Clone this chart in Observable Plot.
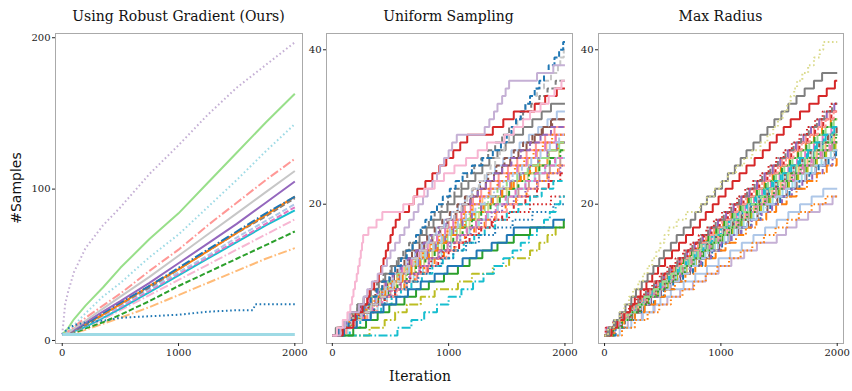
<!DOCTYPE html>
<html><head><meta charset="utf-8">
<script src="https://cdn.jsdelivr.net/npm/d3@7"></script>
<script src="https://cdn.jsdelivr.net/npm/@observablehq/plot@0.6"></script>
<style>
html,body{margin:0;padding:0;background:#fff;}
#fig{position:relative;width:852px;height:391px;overflow:hidden;font-family:"DejaVu Serif",serif;}
#fig svg{position:absolute;left:0;top:0;}
.t{position:absolute;font-size:14px;line-height:14px;white-space:nowrap;transform:translateX(-50%);color:#111;}
</style></head><body><div id="fig"></div>
<script>
// ---------- text ----------
const titles = ["Using Robust Gradient (Ours)", "Uniform Sampling", "Max Radius"];
const xLabel = "Iteration";
const yLabel = "#Samples";
const xTicks = [0, 1000, 2000];
const yTicksRobust = [0, 100, 200];
const yTicksOther = [20, 40];

// ---------- panel 1: Using Robust Gradient (Ours) — values at iterations ----------
const robustIter = [0, 25, 50, 100, 200, 350, 500, 750, 1000, 1250, 1500, 1750, 2000];
const robustValues = [
  [4, 4, 4, 5, 7, 11, 15, 22, 30, 38, 46, 54, 61],
  [4, 4, 4, 5, 8, 12, 17, 26, 36, 45, 54, 63, 72],
  [4, 4, 5, 6, 9, 14, 20, 30, 40, 50, 60, 70, 80],
  [4, 4, 5, 6, 9, 15, 21, 32, 43, 54, 65, 76, 86],
  [4, 4, 5, 6, 10, 16, 22, 33, 44, 55, 66, 77, 88],
  [4, 4, 5, 6, 10, 16, 23, 34, 45, 56, 68, 79, 90],
  [4, 4, 5, 6, 10, 17, 24, 35, 47, 59, 71, 82, 94],
  [4, 4, 5, 7, 11, 17, 24, 36, 47, 59, 71, 83, 95],
  [4, 5, 5, 7, 11, 18, 25, 36, 48, 60, 72, 84, 95],
  [4, 5, 5, 7, 12, 19, 26, 38, 51, 64, 77, 91, 105],
  [4, 5, 5, 8, 13, 21, 29, 42, 56, 70, 84, 98, 112],
  [4, 5, 6, 9, 15, 23, 31, 46, 60, 76, 91, 106, 120],
  [4, 5, 6, 10, 18, 29, 38, 55, 70, 88, 106, 125, 143],
  [4, 6, 8, 14, 23, 35, 48, 67, 84, 104, 124, 144, 163],
  [4, 24, 32, 45, 61, 76, 88, 110, 129, 149, 167, 182, 197]
];
const robustStyles = [
  ["#ffbb78", "dashdot"], ["#2ca02c", "dashed"], ["#f7b6d2", "dashdot"], ["#17becf", "solid"],
  ["#e377c2", "dashed"], ["#aec7e8", "dashed"], ["#7f7f7f", "dashed"], ["#ff7f0e", "solid"],
  ["#1f77b4", "dashdot"], ["#9467bd", "solid"], ["#c7c7c7", "solid"], ["#ff9896", "dashdot"],
  ["#9edae5", "dotted"], ["#98df8a", "solid"], ["#c5b0d5", "dotted"]
];
const robustBlueIter = [0, 25, 50, 100, 200, 350, 500, 750, 1000, 1250, 1500, 1640, 1660, 2000];
const robustBlueValues = [4, 6, 8, 10, 12, 13, 15, 16, 17, 19, 20, 20, 24, 24];
const robustFlatIter = [0, 2000];
const robustFlatValues = [4, 4];

// ---------- panel 2: Uniform Sampling — iterations at which each run gains one sample ----------
const uniformStart = 3;
const uniformJumps = [
  [50,120,190,260,330,400,480,560,640,720,800,880,950,1030,1110,1190,1280,1370,1460,1560,1650,1750,1850],
  [70,140,200,280,340,420,480,560,620,690,770,840,910,990,1060,1140,1210,1290,1360,1440,1520,1600,1680,1760,1840,1920],
  [60,150,230,300,380,450,530,600,680,760,830,910,990,1070,1150,1230,1310,1380,1460,1540,1620,1700,1780,1860,1950],
  [40,110,170,250,310,390,450,520,590,650,720,790,860,930,1000,1070,1140,1210,1280,1360,1430,1510,1590,1670,1750,1830,1910],
  [80,130,210,290,370,430,510,580,660,740,820,890,970,1040,1120,1200,1280,1370,1450,1530,1610,1690,1770,1850,1930],
  [55,125,200,265,335,400,470,530,600,665,730,790,860,925,990,1060,1120,1190,1250,1320,1390,1460,1530,1600,1670,1740,1810,1880],
  [90,170,260,340,420,500,590,670,750,830,910,990,1070,1160,1240,1330,1420,1510,1600,1690,1780,1870,1960],
  [45,105,180,240,310,390,460,520,600,680,750,820,900,970,1040,1110,1190,1270,1350,1430,1510,1590,1670,1750,1830,1920],
  [30,95,150,215,270,330,400,455,510,570,630,690,750,810,870,930,990,1050,1110,1170,1230,1290,1350,1420,1490,1560,1640,1720,1800,1880],
  [110,180,250,330,410,470,550,630,710,790,860,940,1020,1100,1180,1260,1340,1420,1500,1590,1680,1770,1860,1950],
  [130,210,300,390,470,540,620,700,780,860,940,1020,1100,1180,1260,1340,1420,1500,1580,1660,1740,1830,1920],
  [65,135,205,260,330,395,460,520,580,645,710,770,830,890,960,1020,1080,1140,1200,1270,1330,1400,1470,1540,1610,1690,1770,1850,1930],
  [100,190,280,360,450,540,620,710,790,880,960,1050,1140,1220,1310,1400,1490,1580,1670,1760,1850,1940],
  [75,160,240,320,400,480,560,640,720,800,880,960,1040,1120,1200,1280,1360,1440,1520,1600,1690,1780,1870,1960],
  [85,175,270,360,450,540,640,730,820,910,1000,1090,1180,1280,1370,1460,1560,1660,1760,1860,1960],
  [50,115,180,240,305,370,430,495,560,620,685,750,815,880,945,1010,1075,1140,1205,1270,1340,1410,1480,1560,1640,1720,1800,1890],
  [95,185,265,345,430,510,590,670,750,830,915,995,1075,1155,1235,1320,1405,1490,1575,1660,1745,1830,1915],
  [150,240,330,420,510,590,680,770,860,950,1040,1130,1220,1310,1400,1500,1600,1700,1800,1900],
  [55,120,195,255,330,390,460,520,590,650,720,785,850,915,980,1050,1115,1185,1250,1320,1390,1460,1540,1620,1700,1790,1880],
  [85,155,235,305,385,455,530,605,680,755,830,905,980,1060,1140,1220,1300,1380,1460,1540,1620,1700,1780,1860,1940],
  [120,210,300,385,470,555,640,725,810,895,980,1065,1150,1235,1320,1410,1500,1590,1680,1770,1860,1950],
  [40,115,185,265,335,410,480,560,635,715,790,870,945,1025,1100,1180,1260,1340,1420,1500,1590,1680,1770,1860,1950],
  [95,160,240,300,380,440,520,590,660,730,800,870,940,1010,1080,1150,1230,1310,1390,1470,1550,1630,1710,1790,1870,1950],
  [70,150,230,310,400,490,580,670,760,850,950,1050,1150,1260,1380,1520,1700,1880],
  [90,180,270,360,450,540,640,740,840,940,1040,1150,1260,1400,1550,1720,1900],
  [60,150,240,320,410,490,580,660,750,830,920,1010,1100,1190,1280,1370,1460,1560,1660,1760,1860,1960],
  [80,145,220,290,360,430,500,570,640,710,780,850,920,990,1060,1130,1200,1270,1345,1420,1495,1570,1650,1730,1810,1890],
  [45,100,160,215,270,330,385,440,500,555,610,660,720,770,830,880,940,995,1050,1110,1160,1220,1280,1340,1400,1460,1520,1580,1640,1710,1780,1850,1920],
  [320,450,540,640,760,880,1080,1200,1380,1520,1700,1780,1850,1920],
  [560,680,790,900,1000,1110,1210,1300,1390,1470,1550,1620,1690,1760,1820,1870,1920,1960],
  [180,290,390,490,620,720,830,960,1080,1180,1290,1420,1560,1700,1990],
  [100,210,330,440,550,650,760,880,990,1120,1240,1370,1500,1560,1900],
  [80,170,250,330,410,470,530,590,640,700,760,810,870,930,990,1050,1110,1160,1200,1260,1310,1360,1400,1440,1480,1520,1550,1590,1620,1660,1700,1760,1820,1880,1940,1960,1990],
  [60,140,210,270,330,380,430,490,540,590,640,690,720,760,800,850,900,950,1010,1060,1120,1200,1290,1380,1450,1500,1540,1580,1620,1660,1700,1740,1780,1820,1860,1910,1950,1985],
  [90,180,200,260,300,320,360,400,420,440,460,480,500,520,545,580,660,700,730,800,860,920,980,1040,1100,1160,1380,1470,1560,1740,1830,1930],
  [70,110,150,230,270,300,340,390,430,470,500,540,580,620,660,700,740,780,820,860,900,925,960,1000,1030,1070,1310,1350,1390,1420,1460,1490,1520,1760,1900],
  [40,90,130,155,170,182,195,210,222,235,245,255,265,310,380,430,610,700,790,880,960,1050,1150,1250,1330,1480,1560,1640,1700,1790,1860,1910,1970]
];
const uniformStyles = [
  ["#ff7f0e","solid"],["#ffbb78","solid"],["#98df8a","solid"],["#ff9896","solid"],
  ["#9467bd","solid"],["#8c564b","solid"],["#c49c94","solid"],["#e377c2","solid"],
  ["#7f7f7f","solid"],["#dbdb8d","solid"],["#9edae5","solid"],["#aec7e8","solid"],
  ["#ff7f0e","dashed"],["#2ca02c","dashed"],["#d62728","dashed"],["#8c564b","dashed"],
  ["#e377c2","dashed"],["#17becf","dashed"],["#9467bd","dashed"],["#ff7f0e","dashdot"],
  ["#ff9896","dashdot"],["#98df8a","dashdot"],["#aec7e8","dashdot"],["#d62728","dotted"],
  ["#1f77b4","dotted"],["#9467bd","dotted"],["#ff7f0e","dotted"],["#7f7f7f","dashed"],
  ["#bcbd22","dashdot"],["#17becf","dashdot"],["#2ca02c","solid"],["#1f77b4","solid"],
  ["#c7c7c7","dashed"],["#1f77b4","dashed"],["#d62728","solid"],["#c5b0d5","solid"],
  ["#f7b6d2","solid"]
];

// ---------- panel 3: Max Radius — iterations at which each run gains one sample ----------
const radiusStart = 3;
const radiusJumps = [
  [90,200,320,430,540,650,760,870,980,1090,1200,1310,1480,1560,1650,1750,1850,1960],
  [130,230,330,420,480,570,680,780,880,980,1080,1180,1280,1380,1480,1580,1680,1780,1880],
  [150,260,370,470,570,670,770,870,970,1070,1170,1270,1370,1470,1570,1670,1780,1900],
  [35,110,190,265,340,420,495,570,650,725,800,880,955,1030,1110,1185,1260,1340,1415,1490,1570,1645,1720,1800,1875,1950],
  [20,90,165,235,305,375,450,520,590,660,735,805,875,945,1020,1090,1160,1230,1305,1375,1445,1515,1590,1660,1730,1800,1870,1945],
  [55,135,215,295,375,455,535,615,695,775,855,935,1015,1095,1175,1255,1335,1415,1495,1575,1655,1735,1815,1895,1975],
  [15,85,150,220,290,360,425,495,565,630,700,770,840,905,975,1045,1110,1180,1250,1320,1385,1455,1525,1590,1660,1730,1800,1865,1935],
  [45,110,175,245,310,375,445,510,575,645,710,775,845,910,975,1045,1110,1175,1245,1310,1375,1445,1510,1575,1645,1710,1775,1845,1910,1975],
  [70,150,235,315,400,485,565,650,735,815,900,985,1065,1150,1235,1315,1400,1485,1565,1650,1735,1815,1900,1980],
  [25,100,175,245,320,395,470,545,615,690,765,840,915,985,1060,1135,1210,1285,1355,1430,1505,1580,1655,1725,1800,1875,1950],
  [10,90,170,250,330,410,490,570,650,730,810,890,970,1050,1130,1210,1290,1370,1450,1530,1610,1690,1770,1850,1930],
  [65,145,225,305,385,465,545,625,705,785,865,945,1025,1105,1185,1265,1345,1425,1505,1585,1665,1745,1825,1905,1985],
  [50,125,200,270,345,420,495,570,640,715,790,865,940,1010,1085,1160,1235,1310,1380,1455,1530,1605,1680,1750,1825,1900,1975],
  [30,115,195,280,365,445,530,615,695,780,865,945,1030,1115,1195,1280,1365,1445,1530,1615,1695,1780,1865,1945],
  [55,125,195,265,340,410,480,550,620,695,765,835,905,975,1050,1120,1190,1260,1330,1405,1475,1545,1615,1690,1760,1830,1900,1970],
  [60,135,215,290,365,445,520,595,675,750,825,905,980,1055,1135,1210,1285,1365,1440,1515,1595,1670,1745,1825,1900,1975],
  [35,115,195,275,355,435,515,595,675,755,835,915,995,1075,1155,1235,1315,1395,1475,1555,1635,1715,1795,1875,1955],
  [15,90,170,245,320,400,475,550,630,705,780,860,935,1010,1090,1165,1240,1320,1395,1470,1550,1625,1700,1780,1855,1930],
  [95,175,260,340,425,510,590,675,760,840,925,1010,1090,1175,1260,1340,1425,1510,1590,1675,1760,1840,1925,1990],
  [40,110,180,250,320,395,465,535,605,675,745,815,890,960,1030,1100,1170,1240,1310,1385,1455,1525,1595,1665,1735,1805,1880,1950],
  [30,100,170,235,305,375,440,510,580,645,715,785,855,920,990,1060,1125,1195,1265,1330,1400,1470,1540,1605,1675,1745,1810,1880,1950],
  [45,130,220,305,395,480,565,655,740,830,915,1000,1090,1175,1265,1350,1440,1525,1610,1700,1785,1875,1960],
  [70,145,220,290,365,440,515,590,660,735,810,885,960,1030,1105,1180,1255,1330,1400,1475,1550,1625,1700,1770,1845,1920,1995],
  [20,100,180,260,340,420,500,580,660,740,820,900,980,1060,1140,1220,1300,1380,1460,1540,1620,1700,1780,1860,1940],
  [35,110,185,260,330,405,480,555,630,700,775,850,925,1000,1070,1145,1220,1295,1370,1440,1515,1590,1665,1740,1810,1885,1960],
  [50,120,185,255,325,395,460,530,600,665,735,805,875,940,1010,1080,1145,1215,1285,1355,1420,1490,1560,1625,1695,1765,1835,1900,1970],
  [85,170,260,345,435,520,605,695,780,870,955,1040,1130,1215,1305,1390,1475,1565,1650,1740,1825,1910,1995],
  [25,90,160,225,290,355,425,490,555,625,690,755,825,890,955,1025,1090,1155,1225,1290,1355,1425,1490,1555,1625,1690,1755,1825,1890,1955],
  [60,140,225,310,390,475,560,640,725,810,890,975,1060,1140,1225,1310,1390,1475,1560,1640,1725,1810,1890,1975],
  [40,115,195,270,345,425,500,575,655,730,805,885,960,1035,1115,1190,1265,1345,1420,1495,1575,1650,1725,1805,1880,1955],
  [10,75,140,210,275,340,410,475,540,610,675,740,810,875,940,1010,1075,1140,1210,1275,1340,1410,1475,1540,1610,1675,1740,1810,1875,1940],
  [75,150,230,305,380,460,535,610,690,765,840,920,995,1070,1150,1225,1300,1380,1455,1530,1610,1685,1760,1840,1915,1990],
  [60,110,170,220,260,310,360,410,460,520,580,640,700,760,820,870,930,980,1040,1100,1160,1220,1290,1360,1420,1480,1540,1600,1680,1760,1840,1910,1980],
  [40,80,130,180,230,270,320,370,420,470,510,570,620,680,740,780,830,880,950,1010,1060,1120,1170,1220,1280,1340,1400,1460,1520,1580,1650,1720,1800,1870],
  [30,80,130,170,210,245,290,330,370,410,445,480,515,550,620,700,820,880,940,1000,1060,1130,1200,1270,1340,1400,1450,1490,1530,1570,1600,1630,1655,1700,1750,1800,1850,1880]
];
const radiusStyles = [
  ["#c5b0d5","solid"],["#aec7e8","solid"],["#ff7f0e","dotted"],
  ["#1f77b4","solid"],["#ff7f0e","solid"],["#2ca02c","solid"],["#ff9896","solid"],
  ["#9467bd","solid"],["#8c564b","solid"],["#e377c2","solid"],["#f7b6d2","solid"],
  ["#bcbd22","solid"],["#17becf","solid"],["#9edae5","solid"],["#98df8a","solid"],
  ["#ffbb78","solid"],["#c49c94","solid"],["#c7c7c7","solid"],["#1f77b4","dashed"],
  ["#2ca02c","dashed"],["#d62728","dashed"],["#9467bd","dashed"],["#8c564b","dashed"],
  ["#e377c2","dashed"],["#17becf","dashed"],["#ff9896","dashed"],["#ff7f0e","dashdot"],
  ["#7f7f7f","dashdot"],["#aec7e8","dashdot"],["#98df8a","dashdot"],["#d62728","dotted"],
  ["#2ca02c","dotted"],["#d62728","solid"],["#7f7f7f","solid"],["#dbdb8d","dotted"]
];

// ---------- drawing ----------
const dashes = {solid: null, dashed: "5.5,2.4", dashdot: "9,2.4,1.6,2.4", dotted: "1.6,2.6"};
const W = 852, H = 391, MT = 33, MB = 48;
const lastIter = 2000;

function lineMark(rows, [color, ls], curve, sw) {
  return Plot.line(rows, {x: "x", y: "y", stroke: color, strokeWidth: sw,
    strokeDasharray: dashes[ls], strokeLinecap: "butt", strokeLinejoin: "miter", curve});
}
function valueMarks(iter, values, styles, sw) {
  return values.map((vals, k) => lineMark(iter.map((t, j) => ({x: t, y: vals[j]})), styles[k], "linear", sw));
}
function jumpMarks(start, jumps, styles, sw) {
  return jumps.map((js, k) => {
    const rows = [{x: 0, y: start}, ...js.map((t, j) => ({x: t, y: start + j + 1})), {x: lastIter, y: start + js.length}];
    return lineMark(rows, styles[k], "step-after", sw);
  });
}

function panel({left, right, xDomain, yDomain, yTicks, marks}) {
  return Plot.plot({
    width: W, height: H,
    marginLeft: left, marginRight: W - right, marginTop: MT, marginBottom: MB,
    style: {background: "transparent", fontFamily: "DejaVu Serif", fontSize: "10px", color: "#222", overflow: "visible"},
    x: {domain: xDomain},
    y: {domain: yDomain},
    marks: [
      ...marks,
      Plot.frame({stroke: "#aaaaaa", strokeWidth: 1}),
      Plot.axisX({ticks: xTicks, tickFormat: "d", tickSize: 3, tickPadding: 2, label: null, fontSize: 10}),
      Plot.axisY({ticks: yTicks, tickFormat: "d", tickSize: 3, tickPadding: 2, label: null, fontSize: 10})
    ]
  });
}

const fig = document.getElementById("fig");

fig.append(panel({
  left: 55, right: 302, xDomain: [-58, 2066], yDomain: [-2, 202.8], yTicks: yTicksRobust,
  marks: [
    ...valueMarks(robustIter, robustValues, robustStyles, 2),
    ...valueMarks(robustBlueIter, [robustBlueValues], [["#1f77b4", "dotted"]], 2),
    ...valueMarks(robustFlatIter, [robustFlatValues], [["#9edae5", "solid"]], 3)
  ]
}));

fig.append(panel({
  left: 326, right: 572, xDomain: [-50, 2065], yDomain: [1.96, 42.11], yTicks: yTicksOther,
  marks: jumpMarks(uniformStart, uniformJumps, uniformStyles, 2)
}));

fig.append(panel({
  left: 598, right: 843, xDomain: [-52, 2054], yDomain: [1.96, 42.11], yTicks: yTicksOther,
  marks: jumpMarks(radiusStart, radiusJumps, radiusStyles, 2)
}));

// titles and axis labels
const centers = [178.5, 448.5, 720.5];
titles.forEach((t, i) => {
  const d = document.createElement("div");
  d.className = "t"; d.textContent = t;
  d.style.left = centers[i] + "px"; d.style.top = "9px";
  fig.append(d);
});
const xl = document.createElement("div");
xl.className = "t"; xl.textContent = xLabel;
xl.style.left = "420px"; xl.style.top = "369px";
fig.append(xl);
const yl = document.createElement("div");
yl.className = "t"; yl.textContent = yLabel;
yl.style.fontFamily = "'DejaVu Sans', sans-serif";
yl.style.left = "16px"; yl.style.top = "188px";
yl.style.transform = "translate(-50%,-50%) rotate(-90deg)";
fig.append(yl);
</script></body></html>
